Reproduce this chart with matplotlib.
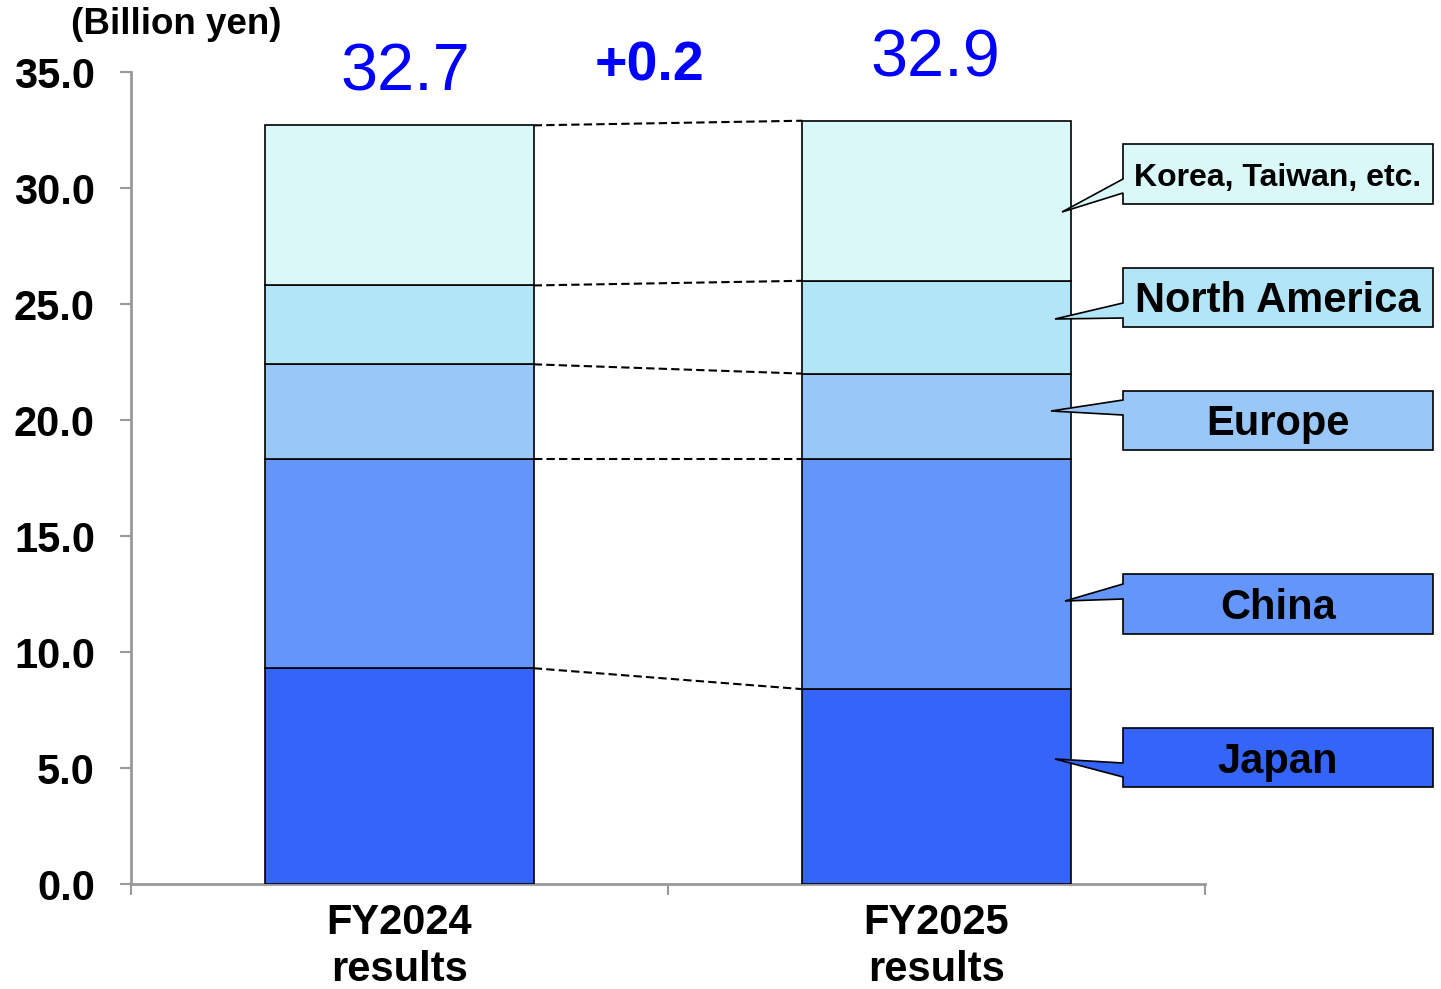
import matplotlib.pyplot as plt
from matplotlib.patches import Polygon

plt.rcParams['font.family'] = ['Liberation Sans', 'DejaVu Sans']

# Sales by region (billion yen), stacked bottom to top
periods = ['FY2024\nresults', 'FY2025\nresults']
regions = ['Japan', 'China', 'Europe', 'North America', 'Korea, Taiwan, etc.']
japan = [9.3, 8.4]
china = [9.0, 9.9]
europe = [4.1, 3.7]
north_america = [3.4, 4.0]
korea_taiwan = [6.9, 6.9]
colors = ['#3465F8', '#6495F9', '#99C8F8', '#B3E5F8', '#DAF8F8']

series = [japan, china, europe, north_america, korea_taiwan]
totals = [round(sum(s[i] for s in series), 1) for i in range(len(periods))]

W, H = 1441, 989
fig = plt.figure(figsize=(W / 100, H / 100), dpi=100)
ax = fig.add_axes([131 / W, 1 - 884 / H, (1205 - 131) / W, (884 - 72) / H])

x = list(range(len(periods)))
bar_w = 0.5
bottoms = [0.0] * len(periods)
levels = []
for vals, col in zip(series, colors):
    ax.bar(x, vals, bar_w, bottom=bottoms, color=col, edgecolor='black',
           linewidth=1.2, zorder=3)
    bottoms = [b + v for b, v in zip(bottoms, vals)]
    levels.append(list(bottoms))

# dashed connectors between stack boundaries
for lev in levels:
    ax.plot([x[0] + bar_w / 2, x[1] - bar_w / 2], lev, ls=(0, (4, 2)),
            color='black', lw=1.5, zorder=4)

ax.set_xlim(-0.5, 1.5)
ax.set_ylim(0, 35)
ax.set_yticks([i * 5 for i in range(8)])
ax.set_yticklabels([f'{i * 5:.1f}' for i in range(8)])
ax.set_xticks(x)
ax.set_xticklabels(periods, linespacing=1.22)
ax.set_xticks([-0.5, 0.5, 1.5], minor=True)
ax.tick_params(axis='x', which='major', length=0, pad=14, labelsize=30)
ax.tick_params(axis='x', which='minor', length=8, width=1.5, color='#999999')
ax.tick_params(axis='y', length=8, width=1.5, color='#999999', pad=18,
               labelsize=30)
for lab in ax.get_xticklabels() + ax.get_yticklabels():
    lab.set_fontweight('bold')
for s in ['top', 'right']:
    ax.spines[s].set_visible(False)
for s in ['left', 'bottom']:
    ax.spines[s].set_color('#999999')
    ax.spines[s].set_linewidth(2)

# totals and change
label_x = [0.01, 0.997]
label_y = [34.95, 35.55]
for lx, t, ly in zip(label_x, totals, label_y):
    ax.text(lx, ly, f'{t:.1f}', ha='center', va='center',
            fontsize=48, color='#0000FF', clip_on=False)
diff = totals[1] - totals[0]
ax.text(0.466, 35.25, f'{diff:+.1f}', ha='center', va='center',
        fontsize=40, fontweight='bold', color='#0000FF', clip_on=False)

fig.text(176 / W, 1 - 24 / H, '(Billion yen)', ha='center', va='center',
         fontsize=26.5, fontweight='bold')

# callout boxes: (top, bottom, wedge top, wedge bottom, tip x, tip y) in pixels
callouts = [
    (728, 787, 763, 777, 1055, 759),
    (574, 634, 584, 599, 1065, 601),
    (391, 450, 400, 415, 1051, 411),
    (268, 327, 303, 318, 1055, 319),
    (144, 204, 179, 193, 1062, 212),
]
left, right = 1123, 1433
for (top, bot, wt, wb, tx, ty), name, col in zip(callouts, regions, colors):
    pts = [(left, top), (right, top), (right, bot), (left, bot), (left, wb),
           (tx, ty), (left, wt)]
    pts = [(px / W, 1 - py / H) for px, py in pts]
    fig.patches.append(Polygon(pts, closed=True, facecolor=col,
                               edgecolor='black', linewidth=1.2,
                               transform=fig.transFigure, figure=fig))
    fs = 23 if name.startswith('Korea') else 30
    fig.text((left + right) / 2 / W, 1 - ((top + bot) / 2 + 4) / H, name,
             ha='center', va='center', fontsize=fs, fontweight='bold')

fig.savefig('out.png', dpi=100)
